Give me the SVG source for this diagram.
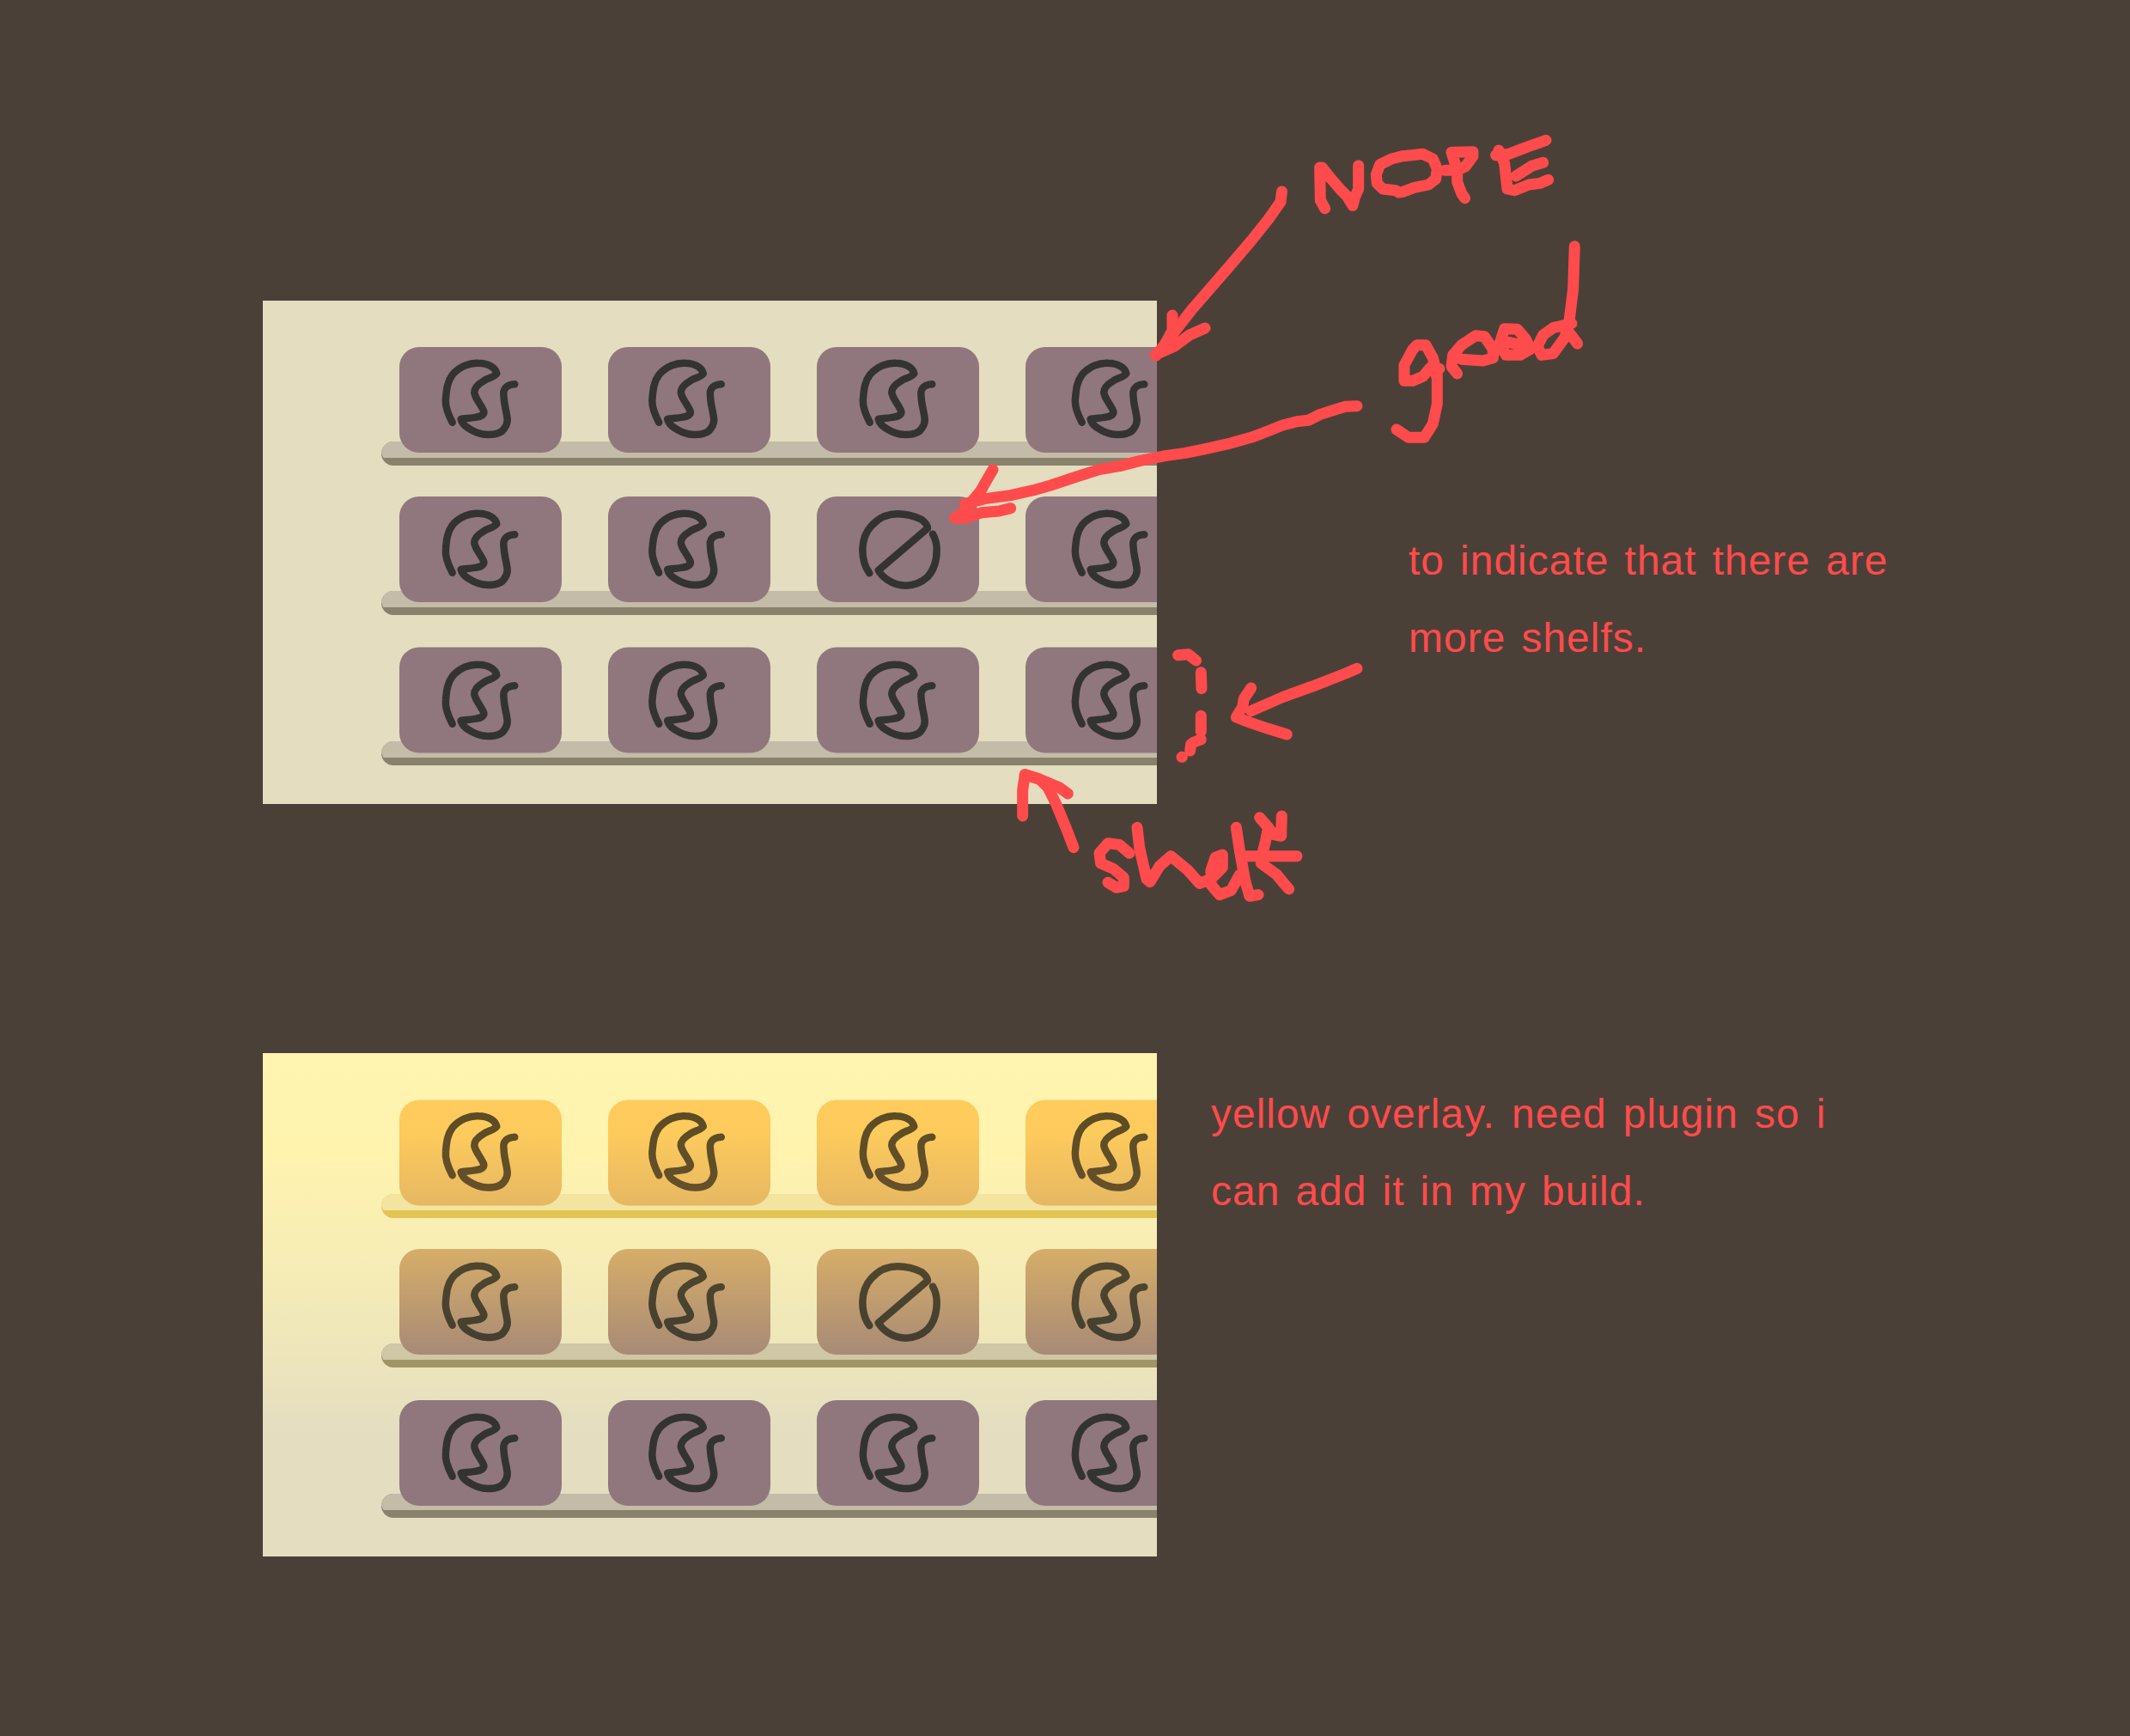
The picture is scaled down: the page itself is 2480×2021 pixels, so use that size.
<svg xmlns="http://www.w3.org/2000/svg" xmlns:xlink="http://www.w3.org/1999/xlink" width="2480" height="2021" viewBox="0 0 2480 2021">
<style>
.card{fill:#90777d}
.card2{fill:url(#cardGrad)}
.ic{fill:none;stroke:#333;stroke-width:8.500;stroke-linecap:round;stroke-linejoin:round}
.i1{stroke:url(#icon1)}
.i2{stroke:url(#icon2)}
.s{fill:none;stroke:#ff4b4b;stroke-width:13px;stroke-linecap:round;stroke-linejoin:round}
.s path{vector-effect:non-scaling-stroke}
.t{font-family:"Liberation Sans",Arial,sans-serif;font-size:48px;fill:#ff4b4b;letter-spacing:1px;word-spacing:3.700px}
</style>
<defs>
<linearGradient id="panelGrad" gradientUnits="userSpaceOnUse" x1="0" y1="1226" x2="0" y2="1812">
<stop offset="0" stop-color="#fff5b0"/><stop offset=".2" stop-color="#fff3ae"/><stop offset=".4" stop-color="#f7edb5"/><stop offset=".65" stop-color="#ebe3bd"/><stop offset=".75" stop-color="#e4ddc0"/><stop offset="1" stop-color="#e4ddc0"/>
</linearGradient>
<linearGradient id="cardGrad" gradientUnits="userSpaceOnUse" x1="0" y1="1280" x2="0" y2="1640">
<stop offset="0" stop-color="#ffcb5c"/><stop offset=".11" stop-color="#fdca5c"/><stop offset=".34" stop-color="#e6b862"/><stop offset=".486" stop-color="#d6ad69"/><stop offset=".825" stop-color="#a88a76"/><stop offset="1" stop-color="#90777d"/>
</linearGradient>
<linearGradient id="icon1" gradientUnits="userSpaceOnUse" x1="0" y1="18" x2="0" y2="104"><stop offset="0" stop-color="#5c4c24"/><stop offset="1" stop-color="#64502a"/></linearGradient>
<linearGradient id="icon2" gradientUnits="userSpaceOnUse" x1="0" y1="18" x2="0" y2="104"><stop offset="0" stop-color="#4f462e"/><stop offset="1" stop-color="#443f30"/></linearGradient>
<clipPath id="clipA"><rect x="306" y="350" width="1041" height="586"/></clipPath>
<clipPath id="clipB"><rect x="306" y="1226" width="1041" height="586"/></clipPath>
<path id="pac" d="M61.700 87.700C56 77 53 68 54 60C55 48 56 40 62 32C70 23 82 18 92 18.700C104 19 112 24 113.300 31C111 35 103 36 98.300 39.300C92 43 87 47 87.300 53C88 60 96 68 98.300 75C99 79 94 81 90 81.500C84 83 76 83 71.700 84C73 89 76 92 80 94.300C87 99 95 102 103 102C111 102 119 100 122 95C125 91 126 88 125.700 84C125 76 122 67 121.700 59C121 53 121 50 124 47C127 44 130 43.500 134.300 43.300"/>
<path id="ban" d="M61.300 89.300C56 82 53.300 72 53.300 62C53.500 50 57 41 64 33.700C72 25 83 20.300 94 20.300C104 20.300 114 23 122.300 27C126 30 129 33 129 37L71.700 86C74 90 78 94 82.300 97C89 101.500 96 103.700 104 103.700C113 103.700 122 100 129 93.700C136 86 139.700 74 139.700 62C139.700 56 138 49 135 43.700"/>
<path id="shelfTop" d="M458 0H1347V19H446.500C444.800 16 444 13 444 11V14C444 6.300 450.300 0 458 0Z"/>
<path id="shelfAll" d="M458 0H1347V28H458C450.300 28 444 21.700 444 14C444 6.300 450.300 0 458 0Z"/>
</defs>
<rect id="background" width="2480" height="2021" fill="#4b4038"/>
<g id="panel-a">
<rect x="306" y="350" width="1041" height="586" fill="#e4ddc0"/>
<g id="a-shelf-1"><use href="#shelfAll" y="514" fill="#8a816c"/><use href="#shelfTop" y="514" fill="#c4bca8"/></g>
<g id="a-shelf-2"><use href="#shelfAll" y="688" fill="#8a816c"/><use href="#shelfTop" y="688" fill="#c4bca8"/></g>
<g id="a-shelf-3"><use href="#shelfAll" y="863" fill="#8a816c"/><use href="#shelfTop" y="863" fill="#c4bca8"/></g>
<g id="a-r1-c1"><rect class="card" x="465" y="404" width="189" height="123" rx="23"/><use class="ic" href="#pac" x="465" y="404"/></g>
<g id="a-r1-c2"><rect class="card" x="708" y="404" width="189" height="123" rx="23"/><use class="ic" href="#pac" x="705.500" y="404"/></g>
<g id="a-r1-c3"><rect class="card" x="951" y="404" width="189" height="123" rx="23"/><use class="ic" href="#pac" x="951" y="404"/></g>
<g id="a-r1-c4"><rect class="card" x="1194" y="404" width="189" height="123" rx="23" clip-path="url(#clipA)"/><use class="ic" href="#pac" x="1198" y="404"/></g>
<g id="a-r2-c1"><rect class="card" x="465" y="578" width="189" height="123" rx="23"/><use class="ic" href="#pac" x="465" y="579"/></g>
<g id="a-r2-c2"><rect class="card" x="708" y="578" width="189" height="123" rx="23"/><use class="ic" href="#pac" x="705.500" y="579"/></g>
<g id="a-r2-c3"><rect class="card" x="951" y="578" width="189" height="123" rx="23"/><use class="ic" href="#ban" x="951" y="578"/></g>
<g id="a-r2-c4"><rect class="card" x="1194" y="578" width="189" height="123" rx="23" clip-path="url(#clipA)"/><use class="ic" href="#pac" x="1198" y="579"/></g>
<g id="a-r3-c1"><rect class="card" x="465" y="753.500" width="189" height="123" rx="23"/><use class="ic" href="#pac" x="465" y="755"/></g>
<g id="a-r3-c2"><rect class="card" x="708" y="753.500" width="189" height="123" rx="23"/><use class="ic" href="#pac" x="705.500" y="755"/></g>
<g id="a-r3-c3"><rect class="card" x="951" y="753.500" width="189" height="123" rx="23"/><use class="ic" href="#pac" x="951" y="755"/></g>
<g id="a-r3-c4"><rect class="card" x="1194" y="753.500" width="189" height="123" rx="23" clip-path="url(#clipA)"/><use class="ic" href="#pac" x="1198" y="755"/></g>
</g>
<g id="panel-b">
<rect x="306" y="1226" width="1041" height="586" fill="url(#panelGrad)"/>
<g id="b-shelf-1"><use href="#shelfAll" y="1390" fill="#e2c453"/><use href="#shelfTop" y="1390" fill="#f3e4a0"/></g>
<g id="b-shelf-2"><use href="#shelfAll" y="1564" fill="#9f9567"/><use href="#shelfTop" y="1564" fill="#cfc7a6"/></g>
<g id="b-shelf-3"><use href="#shelfAll" y="1739" fill="#8a816c"/><use href="#shelfTop" y="1739" fill="#c4bca8"/></g>
<g id="b-r1-c1"><rect class="card2" x="465" y="1280.500" width="189" height="123" rx="23"/><use class="ic i1" href="#pac" x="465" y="1280.500"/></g>
<g id="b-r1-c2"><rect class="card2" x="708" y="1280.500" width="189" height="123" rx="23"/><use class="ic i1" href="#pac" x="705.500" y="1280.500"/></g>
<g id="b-r1-c3"><rect class="card2" x="951" y="1280.500" width="189" height="123" rx="23"/><use class="ic i1" href="#pac" x="951" y="1280.500"/></g>
<g id="b-r1-c4"><rect class="card2" x="1194" y="1280.500" width="189" height="123" rx="23" clip-path="url(#clipB)"/><use class="ic i1" href="#pac" x="1198" y="1280.500"/></g>
<g id="b-r2-c1"><rect class="card2" x="465" y="1454" width="189" height="123" rx="23"/><use class="ic i2" href="#pac" x="465" y="1455"/></g>
<g id="b-r2-c2"><rect class="card2" x="708" y="1454" width="189" height="123" rx="23"/><use class="ic i2" href="#pac" x="705.500" y="1455"/></g>
<g id="b-r2-c3"><rect class="card2" x="951" y="1454" width="189" height="123" rx="23"/><use class="ic i2" href="#ban" x="951" y="1454"/></g>
<g id="b-r2-c4"><rect class="card2" x="1194" y="1454" width="189" height="123" rx="23" clip-path="url(#clipB)"/><use class="ic i2" href="#pac" x="1198" y="1455"/></g>
<g id="b-r3-c1"><rect class="card" x="465" y="1630" width="189" height="123" rx="23"/><use class="ic" href="#pac" x="465" y="1631"/></g>
<g id="b-r3-c2"><rect class="card" x="708" y="1630" width="189" height="123" rx="23"/><use class="ic" href="#pac" x="705.500" y="1631"/></g>
<g id="b-r3-c3"><rect class="card" x="951" y="1630" width="189" height="123" rx="23"/><use class="ic" href="#pac" x="951" y="1631"/></g>
<g id="b-r3-c4"><rect class="card" x="1194" y="1630" width="189" height="123" rx="23" clip-path="url(#clipB)"/><use class="ic" href="#pac" x="1198" y="1631"/></g>
</g>
<g id="connectors">
<g id="arrow-nope" class="s">
<path d="M1492.500 223L1491 235L1477 255L1457 280L1434 307L1408 337L1388 360L1370 383L1346 414"/>
<path d="M1365 367L1365 385L1354 405L1345 413L1367.500 403L1385 390L1403 382"/>
</g>
<g id="arrow-good" class="s" transform="translate(1080 440) scale(.33333)">
<path d="M1500 98L1460 100L1420 112L1370 128L1330 148L1290 152L1240 165L1190 185L1130 208L1050 230L960 250L900 262L830 272L740 290L670 308L600 320L520 345L430 375L370 392L290 410L200 422L130 440"/>
<path d="M228 320L205 360L185 395L160 425L130 465L95 490L130 490L190 470L250 465L290 455"/>
</g>
<g id="arrow-more" class="s" transform="translate(1100 720) scale(.33333)">
<path d="M1440 175L1400 192L1290 235L1180 275L1070 323"/>
<path d="M1070 243L1045 280L1040 310L1018 345L1070 365L1130 385L1195 405"/>
</g>
<g id="arrow-shelf" class="s" transform="translate(1100 720) scale(.33333)">
<path d="M450 800L425 735L390 650L360 590L330 560L280 545L272 600L272 690"/>
<path d="M280 545L340 565L400 590L430 612"/>
</g>
<g id="dashes" class="s" transform="translate(1100 720) scale(.33333)">
<path d="M815 128L850 125L878 147"/>
<path d="M895 188L897 245"/>
<path d="M895 340L895 395"/>
<path d="M895 423L870 432L860 440L857 462"/>
<path d="M828 484L829 484"/>
</g>
</g>
<g id="scribble-nope" class="s" transform="translate(1500 140) scale(.33333)">
<path d="M128 308L112 280L110 165L118 165L150 205L185 245L205 265L225 298L232 270L245 240L245 158"/>
<path d="M385 252L375 245L330 240L310 220L307 190L320 155L360 135L400 125L470 118L505 135L520 170L515 205L490 225L440 235L400 250Z"/>
<path d="M548 175L590 175L620 160L645 125L645 110L570 112L590 175L590 215L605 255L617 272"/>
<path d="M725 122L770 118L830 95L900 70"/>
<path d="M735 105L755 150L765 240L790 245L840 225L880 220L908 208"/>
<path d="M795 195L850 160L890 148"/>
</g>
<g id="scribble-good" class="s" transform="translate(1600 270) scale(.33333)">
<path d="M78 690L120 718L175 718L205 670L220 600L220 510L205 470"/>
<path d="M228 478L195 475L170 505L135 520L105 520L105 465L135 410L150 395L180 395L205 440L220 500"/>
<path d="M290 495L270 470L275 430L305 395L355 362L385 365L415 410L415 440L380 450L305 445"/>
<path d="M415 430L440 385L455 338L500 340L530 375L545 410L510 430L460 430L440 390M470 385L510 395"/>
<path d="M690 320L625 335L590 360L570 400L585 430L625 425L665 370L680 320L695 200L700 50"/>
<path d="M680 350L710 390"/>
</g>
<g id="scribble-shelf" class="s" transform="translate(1260 930) scale(.33333)">
<path d="M165 190L130 160L90 155L60 190L65 225L110 245L145 275L145 305L120 310L90 292"/>
<path d="M192 100L200 170L225 280L237 290L270 235L310 200L370 250L410 295L450 280L490 240L490 195L465 205L450 250L450 300L480 335L520 320L550 265"/>
<path d="M538 100L550 180L570 290L585 340L615 335"/>
<path d="M697 60L695 130L670 125L620 65L650 100L640 150L630 190L625 225L680 265L700 290L722 315"/>
<path d="M575 200L750 200"/>
</g>
<text class="t" x="1640" y="669">to indicate that there are</text>
<text class="t" x="1640" y="759">more shelfs.</text>
<text class="t" x="1410" y="1313" style="word-spacing:4.700px">yellow overlay. need plugin so i</text>
<text class="t" x="1410" y="1403">can add it in my build.</text>
</svg>
